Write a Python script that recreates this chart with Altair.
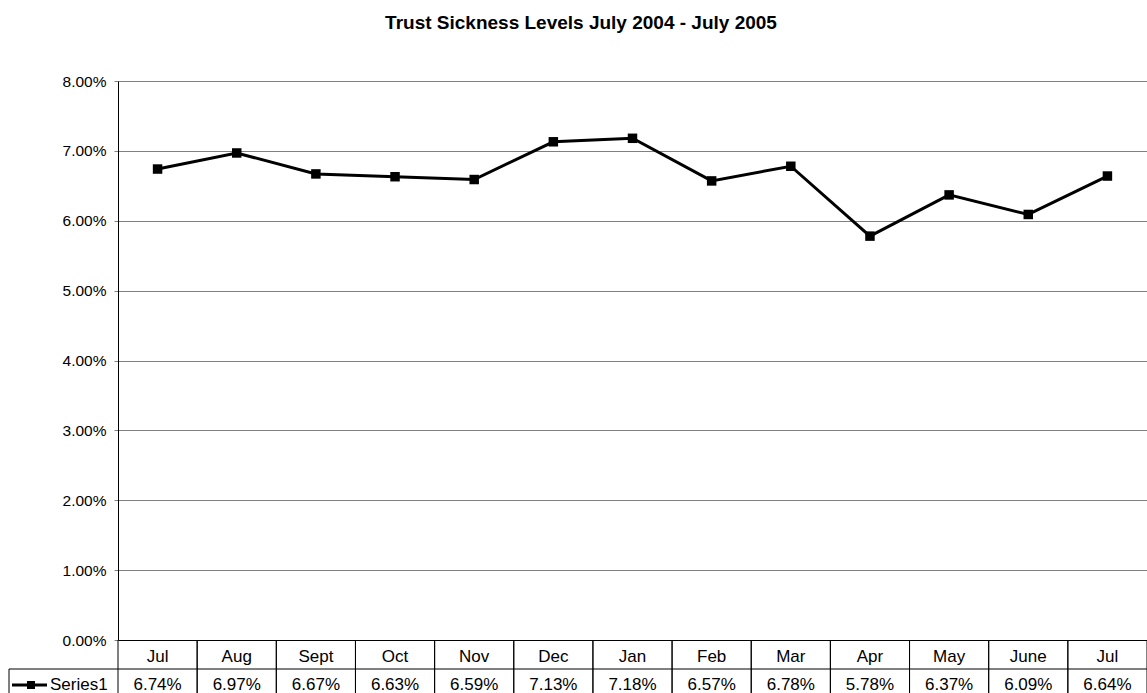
import altair as alt
import pandas as pd

months = ["Jul", "Aug", "Sept", "Oct", "Nov", "Dec", "Jan", "Feb", "Mar", "Apr", "May", "June", "Jul"]
values = [0.0674, 0.0697, 0.0667, 0.0663, 0.0659, 0.0713, 0.0718, 0.0657, 0.0678, 0.0578, 0.0637, 0.0609, 0.0664]
series_name = "Series1"
y_ticks = [0.0, 0.01, 0.02, 0.03, 0.04, 0.05, 0.06, 0.07, 0.08]

df = pd.DataFrame({"idx": list(range(len(months))), "month": months, "value": values})
one = pd.DataFrame({"label": [series_name]})

W = 1029
H = 559
ROW1 = 29   # category row height
ROW2 = 26   # values row height
LEFT_CELL = -109
FONT = "Liberation Sans"

xscale = alt.Scale(type="band", paddingInner=0, paddingOuter=0)
xaxis = alt.Axis(title=None, labels=False, ticks=False, grid=False, domain=True,
                 domainColor="black", domainWidth=1)

base = alt.Chart(df)

line = base.mark_line(color="black", strokeWidth=3).encode(
    x=alt.X("idx:O", scale=xscale, axis=xaxis, bandPosition=0.5),
    y=alt.Y("value:Q", scale=alt.Scale(domain=[0, 0.08]),
            axis=alt.Axis(title=None, values=y_ticks, format=".2%", grid=True,
                          gridColor="#808080", gridWidth=1, domainColor="black",
                          tickColor="#808080", tickSize=4, labelPadding=8,
                          labelFont=FONT, labelFontSize=15.5, labelColor="black")),
)
pts = base.mark_point(shape="square", filled=True, color="black", size=90, opacity=1).encode(
    x=alt.X("idx:O", scale=xscale, axis=xaxis, bandPosition=0.5),
    y=alt.Y("value:Q"),
)

# table grid: vertical separators
vlines_left = base.mark_rule(color="black", strokeWidth=1).encode(
    x=alt.X("idx:O", scale=xscale, axis=xaxis, bandPosition=0),
    y=alt.value(H), y2=alt.value(H + ROW1 + ROW2),
)
vlines_right = base.mark_rule(color="black", strokeWidth=1).encode(
    x=alt.X("idx:O", scale=xscale, axis=xaxis, bandPosition=1),
    y=alt.value(H), y2=alt.value(H + ROW1 + ROW2),
)
hline = alt.Chart(one).mark_rule(color="black", strokeWidth=1).encode(
    x=alt.value(LEFT_CELL), x2=alt.value(W), y=alt.value(H + ROW1),
)
left_border = alt.Chart(one).mark_rule(color="black", strokeWidth=1).encode(
    x=alt.value(LEFT_CELL), y=alt.value(H + ROW1), y2=alt.value(H + ROW1 + ROW2),
)

cat_text = base.mark_text(font=FONT, fontSize=17, baseline="alphabetic", color="black").encode(
    x=alt.X("idx:O", scale=xscale, axis=xaxis, bandPosition=0.5),
    y=alt.value(H + 22),
    text="month:N",
)
val_text = base.mark_text(font=FONT, fontSize=17, baseline="alphabetic", color="black").encode(
    x=alt.X("idx:O", scale=xscale, axis=xaxis, bandPosition=0.5),
    y=alt.value(H + 50),
    text=alt.Text("value:Q", format=".2%"),
)

leg_line = alt.Chart(one).mark_rule(color="black", strokeWidth=3).encode(
    x=alt.value(-106), x2=alt.value(-71), y=alt.value(H + 45),
)
leg_pt = alt.Chart(one).mark_point(shape="square", filled=True, color="black", size=64, opacity=1).encode(
    x=alt.value(-87), y=alt.value(H + 45),
)
leg_text = alt.Chart(one).mark_text(font=FONT, fontSize=17, baseline="alphabetic", align="left",
                                    color="black").encode(
    x=alt.value(-68), y=alt.value(H + 50), text="label:N",
)

chart = alt.layer(
    line, pts, vlines_left, vlines_right, hline, left_border,
    cat_text, val_text, leg_line, leg_pt, leg_text,
).properties(
    width=W, height=H,
    title=alt.TitleParams("Trust Sickness Levels July 2004 - July 2005", font=FONT, fontSize=19,
                          fontWeight="bold", color="black", anchor="middle", frame="group",
                          dx=-51.5, baseline="alphabetic", offset=26),
    autosize=alt.AutoSizeParams(type="none"),
    padding={"left": 118, "top": 81, "right": 0, "bottom": 53},
).configure_view(stroke=None).configure(background="white")

chart.save("out.html", embed_options={"renderer": "svg", "actions": False})
